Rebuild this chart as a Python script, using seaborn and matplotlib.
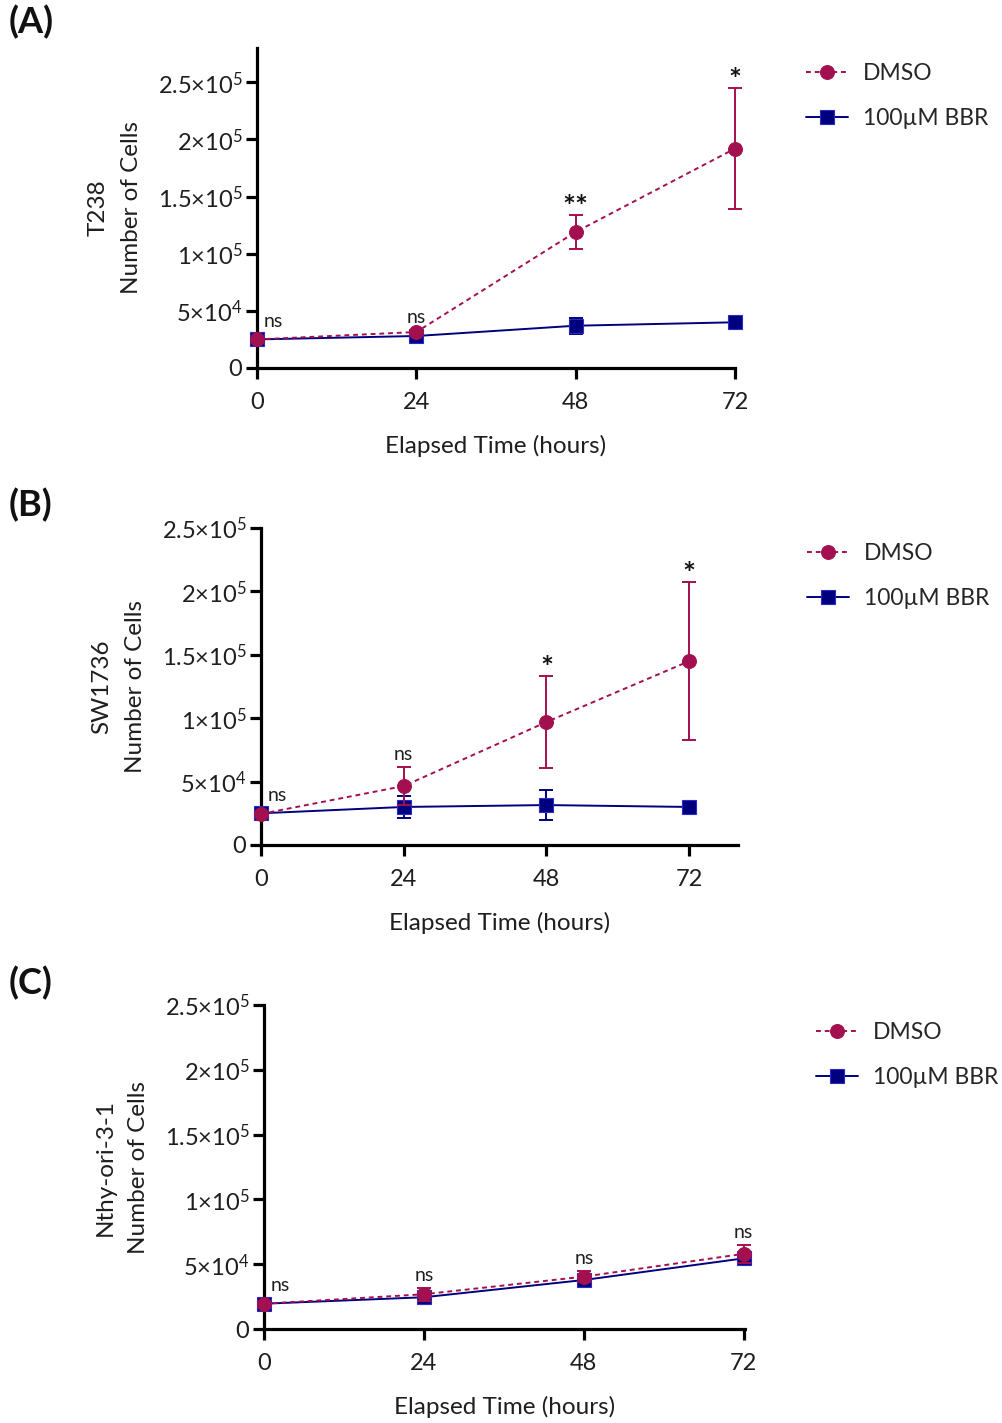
import numpy as np
import pandas as pd
import matplotlib
matplotlib.use("Agg")
import matplotlib.pyplot as plt
import seaborn as sns

# ---------------- data ----------------
times = [0, 24, 48, 72]
groups = ["DMSO", "100µM BBR"]
cell_lines = ["T238", "SW1736", "Nthy-ori-3-1"]
panel_tags = ["(A)", "(B)", "(C)"]

a_dmso = [25000, 31500, 119000, 192000]
a_dmso_sd = [1000, 1500, 15000, 53000]
a_bbr = [25000, 28000, 37000, 40000]
a_bbr_sd = [1000, 1000, 7000, 2000]

b_dmso = [24500, 46500, 97000, 145000]
b_dmso_sd = [1000, 15000, 36000, 62500]
b_bbr = [25000, 30000, 31500, 30000]
b_bbr_sd = [1000, 8500, 11500, 1500]

c_dmso = [19500, 26800, 40400, 58000]
c_dmso_sd = [1000, 5000, 4000, 7000]
c_bbr = [19500, 24500, 37800, 54500]
c_bbr_sd = [1000, 2000, 2000, 2000]

a_sig = ["ns", "ns", "**", "*"]
b_sig = ["ns", "ns", "*", "*"]
c_sig = ["ns", "ns", "ns", "ns"]

ytick_vals = [0, 50000, 100000, 150000, 200000, 250000]
ytick_labels = ["0", "5×10$^{4}$", "1×10$^{5}$", "1.5×10$^{5}$", "2×10$^{5}$", "2.5×10$^{5}$"]
xtick_vals = [0, 24, 48, 72]

# ---------------- style ----------------
sns.set_theme(style="ticks")
plt.rcParams["font.family"] = ["Lato", "DejaVu Sans"]
plt.rcParams["mathtext.fontset"] = "custom"
plt.rcParams["mathtext.rm"] = "Lato"
plt.rcParams["mathtext.it"] = "Lato:italic"
plt.rcParams["mathtext.bf"] = "Lato:bold"

DMSO_C = "#A3104F"
BBR_C = "#00007E"
TICK_FS = 17
LAB_FS = 17.5
LEG_FS = 16.5
TXT = "#1e1e1e"

fig = plt.figure(figsize=(10.03, 14.23), dpi=100)

W, H = 1003.0, 1423.0
# pixel boxes: (left, right, top, bottom), xmax, ymax
boxes = [
    (257, 735, 48, 368, 72.0, 280000),
    (261, 738, 528, 845, 80.2, 250000),
    (264, 745, 1005, 1329, 72.2, 250000),
]
legend_pos = [(806, 63), (807, 543), (816, 1022)]
tag_pos = [(9, 22), (9, 505), (9, 983)]

panels = [
    (a_dmso, a_dmso_sd, a_bbr, a_bbr_sd, a_sig),
    (b_dmso, b_dmso_sd, b_bbr, b_bbr_sd, b_sig),
    (c_dmso, c_dmso_sd, c_bbr, c_bbr_sd, c_sig),
]

for i, (dm, dm_sd, bb, bb_sd, sig) in enumerate(panels):
    l, r, t, b, xmax, ymax = boxes[i]
    ax = fig.add_axes([l / W, 1 - b / H, (r - l) / W, (b - t) / H])

    df_b = pd.DataFrame({"time": times, "cells": bb, "group": groups[1]})
    df_d = pd.DataFrame({"time": times, "cells": dm, "group": groups[0]})

    ax.errorbar(times, bb, yerr=bb_sd, fmt="none", ecolor=BBR_C,
                elinewidth=1.4, capsize=5, capthick=1.4, clip_on=False, zorder=2)
    sns.lineplot(data=df_b, x="time", y="cells", ax=ax, color=BBR_C,
                 marker="s", markersize=10, markeredgecolor="#2a2ac8",
                 markeredgewidth=0.8, linewidth=1.4, label=groups[1],
                 clip_on=False, zorder=3)
    ax.errorbar(times, dm, yerr=dm_sd, fmt="none", ecolor=DMSO_C,
                elinewidth=1.4, capsize=5, capthick=1.4, clip_on=False, zorder=4)
    sns.lineplot(data=df_d, x="time", y="cells", ax=ax, color=DMSO_C,
                 marker="o", markersize=10, markeredgecolor=DMSO_C,
                 linewidth=1.4, label=groups[0], clip_on=False, zorder=5)
    for ln in ax.get_lines():
        if ln.get_label() == groups[0]:
            ln.set_dashes((2.5, 2))

    ax.set_xlim(0, xmax)
    ax.set_ylim(0, ymax)
    ax.set_xticks(xtick_vals)
    ax.set_xticklabels([str(v) for v in xtick_vals], fontsize=TICK_FS)
    ax.set_yticks(ytick_vals)
    ax.set_yticklabels(ytick_labels, fontsize=TICK_FS)
    sns.despine(ax=ax)
    for s in ["left", "bottom"]:
        ax.spines[s].set_linewidth(2.3)
        ax.spines[s].set_color("black")
    ax.tick_params(axis="both", direction="out", length=8, width=2.3,
                   color="black", labelcolor=TXT)
    ax.tick_params(axis="y", pad=2.5)
    ax.tick_params(axis="x", pad=9)
    ax.set_xlabel("Elapsed Time (hours)", fontsize=LAB_FS, color=TXT, labelpad=16)
    ax.set_ylabel(cell_lines[i] + "\nNumber of Cells", fontsize=LAB_FS,
                  color=TXT, labelpad=11, linespacing=1.75)

    # significance labels
    for j, s in enumerate(sig):
        top = max(dm[j] + dm_sd[j], bb[j] + bb_sd[j])
        if j == 0:
            ax.annotate(s, (times[j], top), xytext=(5, 6), textcoords="offset points",
                        ha="left", va="bottom", fontsize=14, color=TXT)
        elif s == "ns":
            ax.annotate(s, (times[j], top), xytext=(0, 3), textcoords="offset points",
                        ha="center", va="bottom", fontsize=14, color=TXT)
        else:
            ax.annotate(s, (times[j], top), xytext=(0, -5), textcoords="offset points",
                        ha="center", va="bottom", fontsize=22, fontweight="bold",
                        color="#111111")

    handles, labels = ax.get_legend_handles_labels()
    order = [labels.index(groups[0]), labels.index(groups[1])]
    lx, ly = legend_pos[i]
    ax.legend([handles[k] for k in order], [labels[k] for k in order],
              loc="upper left", bbox_to_anchor=(lx / W, 1 - ly / H),
              bbox_transform=fig.transFigure, frameon=False, fontsize=LEG_FS,
              handlelength=1.85, handletextpad=0.65, labelspacing=1.05,
              borderpad=0, borderaxespad=0)

    tx, ty = tag_pos[i]
    fig.text(tx / W, 1 - ty / H, panel_tags[i], fontsize=26, fontweight="bold",
             ha="left", va="center", color="#111111")

fig.savefig("out.png", dpi=100)
